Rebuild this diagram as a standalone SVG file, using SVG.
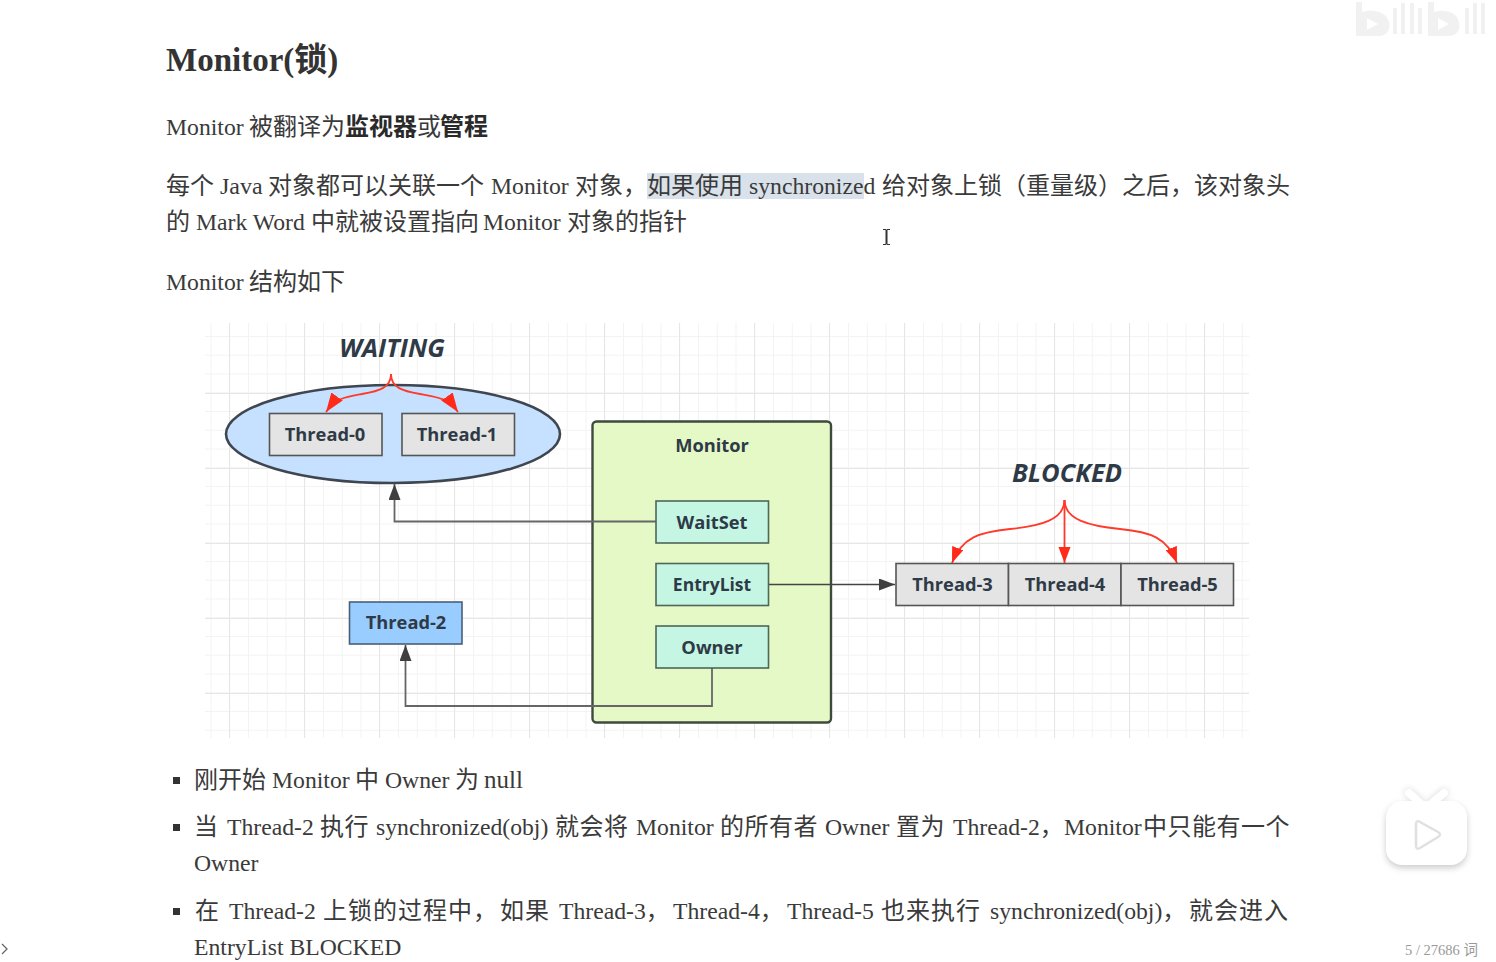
<svg xmlns="http://www.w3.org/2000/svg" width="1496" height="962" viewBox="0 0 1496 962">
<style>
text{font-family:"Liberation Serif","Noto Sans CJK SC",serif;font-size:24px;fill:#3a3a3a}
.h{font-size:33px;font-weight:700;fill:#333}
.b{font-weight:700;fill:#2a2a2a}
.l{font-size:23.700px}
.s1{letter-spacing:.5px}
.s2{letter-spacing:1px}
.n{font-family:"Open Sans","Liberation Sans",sans-serif;font-size:18.300px;font-weight:700;fill:#2f3a47;text-anchor:middle}
.t{font-family:"Open Sans","Liberation Sans",sans-serif;font-size:25.500px;font-weight:700;font-style:italic;fill:#2f3a47;text-anchor:middle}
.g{fill:#e4e4e4;stroke:#555;stroke-width:1.600}
.c{fill:#c5f6e4;stroke:#4f6658;stroke-width:1.600}
.e{fill:none;stroke:#666;stroke-width:1.800}
.r{fill:none;stroke:#ff3a2a;stroke-width:1.800}
.gm{stroke:#e6e6e6;stroke-width:1}
.gn{stroke:#f3f3f3;stroke-width:1}
</style>
<defs>
<marker id="ak" markerUnits="userSpaceOnUse" markerWidth="18" markerHeight="14" refX="16" refY="6" orient="auto"><path d="M0 0L16 6L0 12Z" fill="#3f3f3f"/></marker>
<marker id="ar" markerUnits="userSpaceOnUse" markerWidth="18" markerHeight="14" refX="16" refY="6" orient="auto"><path d="M0 0L16 6L0 12Z" fill="#ff2a1a"/></marker>
<marker id="arw" markerUnits="userSpaceOnUse" markerWidth="22" markerHeight="16" refX="19" refY="7" orient="auto"><path d="M0 0L19 7L0 14Z" fill="#ff2a1a"/></marker>
<pattern id="gridn" x="210.500" y="336" width="18.750" height="18.750" patternUnits="userSpaceOnUse"><path d="M.5 0V18.750M0 .5H18.750" class="gn" fill="none"/></pattern>
<pattern id="gridm" x="229" y="318" width="75" height="75" patternUnits="userSpaceOnUse"><path d="M.5 0V75M0 .5H75" class="gm" fill="none"/></pattern>
<filter id="sh" x="-20%" y="-20%" width="140%" height="140%"><feGaussianBlur stdDeviation="3"/></filter>
</defs>
<rect width="1496" height="962" fill="#fff"/>

<g id="watermark" fill="#f1f1f1">
<path fill-rule="evenodd" d="M1356 2h6v10c10-3 24-1 27 10 2 8-3 14-10 14h-23ZM1367 18v12l11-6Z"/>
<path fill-rule="evenodd" d="M1428 2h6v10c10-3 22-1 25 10 2 8-3 14-10 14h-21ZM1438 18v12l11-6Z"/>
<path d="M1393 8h4v26h-4ZM1401 3h4v31h-4ZM1410 3h4v31h-4ZM1418 8h4v26h-4ZM1465 8h4v26h-4ZM1473 3h4v31h-4ZM1481 3h4v31h-4Z"/>
</g>

<text class="h" x="166" y="71">Monitor(锁)</text>
<text y="135"><tspan x="166" class="l">Monitor</tspan><tspan x="249">被翻译为</tspan><tspan x="345" class="b">监视器</tspan><tspan x="417">或</tspan><tspan x="440" class="b">管程</tspan></text>
<rect x="647" y="173" width="217" height="26" fill="#d9e2ea"/>
<text y="194"><tspan x="166">每个</tspan><tspan x="220">Java</tspan><tspan x="268">对象都可以关联一个</tspan><tspan x="491" class="l">Monitor</tspan><tspan x="575">对象，</tspan><tspan x="647">如果使用</tspan><tspan x="749" class="l">synchronized</tspan><tspan x="882">给对象上锁（重量级）之后，该对象头</tspan></text>
<text y="230"><tspan x="166">的</tspan><tspan x="196" class="l">Mark Word</tspan><tspan x="311">中就被设置指向</tspan><tspan x="483" class="l">Monitor</tspan><tspan x="567">对象的指针</tspan></text>
<text y="290"><tspan x="166" class="l">Monitor</tspan><tspan x="249">结构如下</tspan></text>
<path d="M883 229.500h3v15h-3M890 229.500h-3v15h3M886.500 230v14" fill="none" stroke="#333" stroke-width="1"/>

<g id="grid">
<rect x="205" y="323" width="1044" height="415" fill="url(#gridn)"/>
<rect x="205" y="323" width="1044" height="415" fill="url(#gridm)"/>
</g>

<g id="waiting-label"><text class="t" x="392" y="357">WAITING</text></g>
<g id="blocked-label"><text class="t" x="1067" y="482">BLOCKED</text></g>

<g id="waiting-set"><ellipse cx="393" cy="434" rx="167" ry="49" fill="#c6e1ff" stroke="#3f4650" stroke-width="2.600"/></g>
<g id="thread-0"><rect class="g" x="269.500" y="413.500" width="112.500" height="42"/><text class="n" x="325" y="441">Thread-0</text></g>
<g id="thread-1"><rect class="g" x="402" y="413.500" width="112.500" height="42"/><text class="n" x="457" y="441">Thread-1</text></g>

<g id="monitor"><rect x="592.500" y="421.500" width="238.500" height="301" rx="4" fill="#e5f9c6" stroke="#3f4a3f" stroke-width="2.400"/><text class="n" x="712" y="452">Monitor</text></g>

<g id="thread-2"><rect x="349.500" y="602" width="112.500" height="42" fill="#99ccff" stroke="#4a6078" stroke-width="1.600"/><text class="n" x="406" y="629">Thread-2</text></g>

<g id="connectors">
<path class="e" d="M656 521.500H394.500V484" marker-end="url(#ak)"/>
<path class="e" d="M712 668V706H405.500V645" marker-end="url(#ak)"/>
<path d="M768 584.500H895" fill="none" stroke="#444" stroke-width="1.300" marker-end="url(#ak)"/>
<path class="r" d="M391 374C391 388 379 391 362 394C345 397 336 398 326 412" marker-end="url(#arw)"/>
<path class="r" d="M391 374C391 388 403 391 420 394C437 397 448 398 458 412" marker-end="url(#arw)"/>
<path class="r" d="M1064.500 500C1064.500 520 1040 526 1010 529C980 532 962 537 952 563" marker-end="url(#ar)"/>
<path class="r" d="M1064.500 500V563" marker-end="url(#ar)"/>
<path class="r" d="M1064.500 500C1064.500 520 1090 526 1120 529C1150 532 1167 537 1177 563" marker-end="url(#ar)"/>
</g>

<g id="waitset"><rect class="c" x="656" y="501" width="112.500" height="42"/><text class="n" x="712" y="528.500">WaitSet</text></g>
<g id="entrylist"><rect class="c" x="656" y="563.500" width="112.500" height="42"/><text class="n" x="712" y="591" style="font-size:17.500px">EntryList</text></g>
<g id="owner"><rect class="c" x="656" y="626" width="112.500" height="42"/><text class="n" x="712" y="654">Owner</text></g>

<g id="thread-3"><rect class="g" x="896" y="563.500" width="112.500" height="42"/><text class="n" x="952.500" y="591">Thread-3</text></g>
<g id="thread-4"><rect class="g" x="1008.500" y="563.500" width="112.500" height="42"/><text class="n" x="1065" y="591">Thread-4</text></g>
<g id="thread-5"><rect class="g" x="1121" y="563.500" width="112.500" height="42"/><text class="n" x="1177.500" y="591">Thread-5</text></g>

<rect x="173" y="777" width="7" height="7" fill="#333"/>
<text y="788"><tspan x="194">刚开始</tspan><tspan x="272" class="l">Monitor</tspan><tspan x="355">中</tspan><tspan x="385" class="l">Owner</tspan><tspan x="455">为</tspan><tspan x="484" style="font-size:25px">null</tspan></text>
<rect x="173" y="824" width="7" height="7" fill="#333"/>
<text y="835"><tspan x="194">当</tspan><tspan x="227" class="l">Thread-2</tspan><tspan x="320" class="s1">执行</tspan><tspan x="376" class="l">synchronized(obj)</tspan><tspan x="555" class="s1">就会将</tspan><tspan x="636" class="l">Monitor</tspan><tspan x="720" class="s1">的所有者</tspan><tspan x="825" class="l">Owner</tspan><tspan x="896" class="s1">置为</tspan><tspan x="953" class="l">Thread-2，</tspan><tspan x="1064" class="l">Monitor</tspan><tspan x="1143" class="s1">中只能有一个</tspan></text>
<text x="194" y="871" class="l">Owner</text>
<rect x="173" y="908" width="7" height="7" fill="#333"/>
<text y="919"><tspan x="195">在</tspan><tspan x="229" class="l">Thread-2</tspan><tspan x="323" class="s2">上锁的过程中，</tspan><tspan x="500" class="s2">如果</tspan><tspan x="559" class="l">Thread-3，</tspan><tspan x="673" class="l">Thread-4，</tspan><tspan x="787" class="l">Thread-5</tspan><tspan x="881" class="s2">也来执行</tspan><tspan x="990" class="l">synchronized(obj)，</tspan><tspan x="1189" class="s2">就会进入</tspan></text>
<text x="194" y="955" class="l">EntryList BLOCKED</text>

<path d="M2 944L7 949L2 954" fill="none" stroke="#666" stroke-width="1.300"/>
<text x="1405" y="955" style="font-size:14.500px;fill:#999">5 / 27686 词</text>

<g id="play-button">
<g filter="url(#sh)" opacity=".75">
<rect x="1386" y="804" width="81" height="64" rx="16" fill="#bbb"/>
<path d="M1409 793L1420 803M1444 793L1432 803" stroke="#ccc" stroke-width="8" stroke-linecap="round"/>
</g>
<path d="M1409 793L1420 803M1444 793L1432 803" stroke="#fff" stroke-width="8" stroke-linecap="round"/>
<rect x="1386" y="801" width="81" height="64" rx="16" fill="#fff"/>
<path d="M1416 824Q1416 820 1420 822L1438 832Q1442 834.500 1438 837L1420 848Q1416 850 1416 846Z" fill="#fff" stroke="#e0e0e0" stroke-width="2.500"/>
</g>
</svg>
